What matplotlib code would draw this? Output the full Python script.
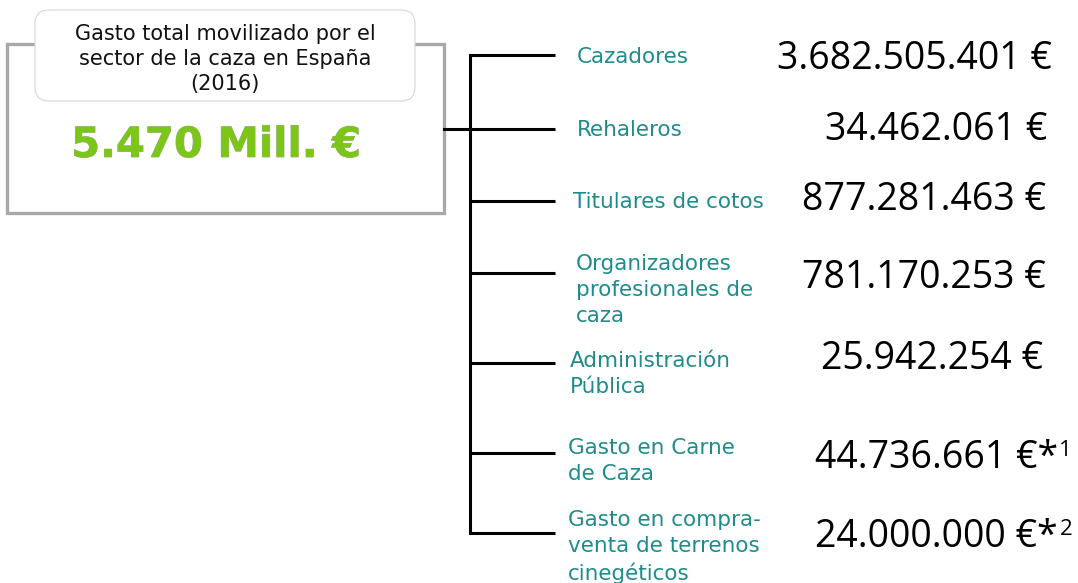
import matplotlib
matplotlib.use('Agg')
import matplotlib.pyplot as plt
from matplotlib.patches import Rectangle, FancyBboxPatch
import matplotlib.patheffects as pe

# data
title_lines = 'Gasto total movilizado por el\nsector de la caza en España\n(2016)'
total_label = '5.470 Mill. €'
categories = [
    'Cazadores',
    'Rehaleros',
    'Titulares de cotos',
    'Organizadores\nprofesionales de\ncaza',
    'Administración\nPública',
    'Gasto en Carne\nde Caza',
    'Gasto en compra-\nventa de terrenos\ncinegéticos',
]
values = [3682505401, 34462061, 877281463, 781170253, 25942254, 44736661, 24000000]
notes = ['', '', '', '', '', '1', '2']

# layout (pixel coordinates, y downwards)
branch_y = [55, 129, 201, 273, 363, 453, 533]
label_x = [577, 577, 573, 576, 570, 568, 568]
label_y = [57, 130, 202, 290, 374, 461, 547]
value_x = [1052, 1047, 1046, 1046, 1043, 1058, 1058]
value_y = [59, 130, 200, 278, 359, 458, 537]

TEAL = '#1f8c8c'
GREEN = '#7cc618'


def fmt(v):
    return f'{v:,}'.replace(',', '.') + ' €'


def main():
    fig = plt.figure(figsize=(10.78, 5.83), dpi=100)
    ax = fig.add_axes([0, 0, 1, 1])
    ax.set_xlim(0, 1078)
    ax.set_ylim(583, 0)
    ax.axis('off')

    # outer gray box
    ax.add_patch(Rectangle((7, 44), 437, 169, fill=False, edgecolor='#a8a8a8', lw=2.4, zorder=1))
    # rounded title box
    ax.add_patch(FancyBboxPatch((43, 18), 364, 75, boxstyle='round,pad=8,rounding_size=14',
                                facecolor='white', edgecolor='#d6d6d6', lw=0.8, zorder=2))
    ax.text(225, 59, title_lines, ha='center', va='center', fontsize=15,
            family='DejaVu Sans', color='#111111', linespacing=1.3, zorder=3)
    ax.text(216, 145, total_label, ha='center', va='center', fontsize=30, fontweight='bold',
            family='DejaVu Sans', color=GREEN, zorder=3,
            path_effects=[pe.withStroke(linewidth=0.6, foreground='#a0a890')])

    # tree lines
    lw = 2.2
    ax.plot([470, 470], [branch_y[0], branch_y[-1]], color='black', lw=lw, solid_capstyle='projecting')
    ax.plot([444, 470], [branch_y[1], branch_y[1]], color='black', lw=lw)
    for y in branch_y:
        ax.plot([470, 555], [y, y], color='black', lw=lw, solid_capstyle='butt')

    for cat, lx, ly in zip(categories, label_x, label_y):
        ax.text(lx, ly, cat, ha='left', va='center', fontsize=15.5, family='DejaVu Sans',
                color=TEAL, linespacing=1.35)

    for v, n, vx, vy in zip(values, notes, value_x, value_y):
        s = fmt(v) + ('*' if n else '')
        t = ax.text(vx, vy, s, ha='right', va='center', fontsize=27, family='Open Sans',
                    color='black')
        if n:
            ax.annotate(n, xy=(1.0, 0.97), xycoords=t, xytext=(1, 0), textcoords='offset points',
                        ha='left', va='top', fontsize=16, family='Open Sans', color='black')

    fig.savefig('out.png', dpi=100)


if __name__ == '__main__':
    main()
